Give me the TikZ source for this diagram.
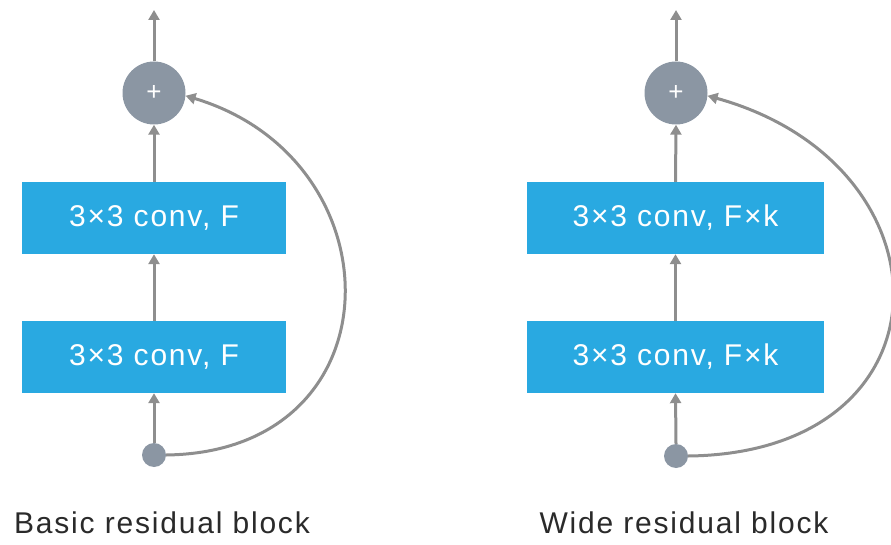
\documentclass[tikz,border=0pt]{standalone}
\usepackage{fontspec}
\setmainfont{Liberation Sans}[LetterSpace=6]
\usetikzlibrary{arrows.meta}
\definecolor{boxblue}{HTML}{29A9E1}
\definecolor{nodegray}{HTML}{8B96A3}
\definecolor{linegray}{HTML}{8E8E8E}
\definecolor{labelcol}{HTML}{2A2A2A}
\tikzset{
  convbox/.style={fill=boxblue, draw=none, minimum height=72pt, inner sep=0pt, text=white, font=\fontsize{30}{30}\selectfont},
  plusnode/.style={circle, fill=nodegray, draw=none, minimum size=63pt, inner sep=0pt, text=white, font=\fontsize{26}{26}\selectfont},
  dotnode/.style={circle, fill=nodegray, draw=none, minimum size=24pt, inner sep=0pt},
  conn/.style={draw=linegray, line width=3pt, -{Triangle[length=10pt,width=11pt]}},
  caption/.style={text=labelcol, font=\fontsize{30}{30}\selectfont, anchor=base}
}
\begin{document}
\begin{tikzpicture}[x=1pt,y=-1pt]
\useasboundingbox (0,0) rectangle (891,545);
% left block
\node[plusnode] (p1) at (154,93) {+};
\node[convbox, minimum width=264pt] (b1a) at (154,218) {3×3 conv, F};
\node[convbox, minimum width=264pt] (b1b) at (154,357) {3×3 conv, F};
\node[dotnode] (d1) at (154,455) {};
\coordinate (t1) at (154,10);
\draw[conn] (p1.north) -- (t1);
\draw[conn] (b1a.north) -- (p1.south);
\draw[conn] (b1b.north) -- (b1a.south);
\draw[conn] (d1.north) -- (b1b.south);
\draw[conn] (d1.east) .. controls (400,452) and (400,160) .. (p1.-5);
\node[caption] (l1) at (162,533) {Basic residual block};
% right block
\node[plusnode] (p2) at (676,93) {+};
\node[convbox, minimum width=297pt] (b2a) at (675.5,218) {3×3 conv, F×k};
\node[convbox, minimum width=297pt] (b2b) at (675.5,357) {3×3 conv, F×k};
\node[dotnode] (d2) at (676,456) {};
\coordinate (t2) at (676,10);
\draw[conn] (p2.north) -- (t2);
\draw[conn] (b2a.north) -- (p2.south);
\draw[conn] (b2b.north) -- (b2a.south);
\draw[conn] (d2.north) -- (b2b.south);
\draw[conn] (d2.east) .. controls (957,453) and (957,165) .. (p2.-5);
\node[caption] (l2) at (684,533) {Wide residual block};
\end{tikzpicture}
\end{document}
